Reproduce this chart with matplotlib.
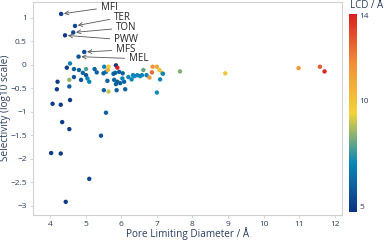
import matplotlib

matplotlib.use("Agg")

import matplotlib.pyplot as plt
from matplotlib.colors import LinearSegmentedColormap, Normalize
from matplotlib.cm import ScalarMappable

plt.rcParams["font.family"] = ["Open Sans", "DejaVu Sans"]

TEXT_COLOR = "#2a3f5f"

# pore limiting diameter, selectivity (log10), largest cavity diameter
pld = [
    4.31, 4.70, 4.65, 4.42, 4.96, 4.80,
    4.56, 4.47, 4.67, 4.81, 5.01, 4.92, 4.67, 4.54, 4.87, 5.01, 5.05, 5.10,
    4.21, 4.19, 4.54, 4.56, 4.07, 4.30,
    5.31, 5.25, 5.52, 5.57, 5.50, 5.64, 5.62, 5.85, 5.89, 5.83, 5.78, 5.94,
    6.04, 5.61, 5.80, 5.89, 5.85, 5.97, 6.08, 6.03, 6.20, 6.11, 5.87, 5.64,
    5.51, 5.57,
    6.45, 6.37, 6.29, 6.33, 6.53, 6.62, 6.58, 6.71, 6.88, 7.00, 6.86, 7.07,
    7.14, 6.79, 7.09, 7.00, 7.65, 7.17,
    8.92, 10.98, 11.58, 11.71,
    4.34, 4.54, 4.03, 4.30, 5.43, 5.10, 4.44,
]
selectivity = [
    1.085, 0.83, 0.69, 0.63, 0.275, 0.175,
    0.03, -0.06, -0.09, -0.11, -0.09, -0.17, -0.26, -0.32, -0.32, -0.22, -0.29, -0.36,
    -0.36, -0.52, -0.46, -0.75, -0.83, -0.85,
    -0.16, -0.09, -0.04, -0.15, -0.18, -0.04, -0.11, -0.01, -0.06, -0.17, -0.19, -0.15,
    -0.18, -0.34, -0.32, -0.36, -0.41, -0.39, -0.36, -0.29, -0.26, -0.52, -0.54, -0.57,
    -0.54, -1.02,
    -0.22, -0.24, -0.31, -0.22, -0.24, -0.11, -0.22, -0.22, -0.04, -0.04, -0.16, -0.11,
    -0.17, -0.27, -0.31, -0.59, -0.14, -0.19,
    -0.18, -0.07, -0.04, -0.14,
    -1.22, -1.37, -1.88, -1.89, -1.51, -2.43, -2.92,
]
lcd = [
    5.0, 5.3, 5.3, 5.0, 5.4, 5.6,
    7.0, 5.0, 6.0, 6.0, 7.8, 6.0, 5.6, 8.5, 5.6, 5.6, 7.0, 7.0,
    5.0, 5.0, 6.0, 5.0, 5.0, 5.0,
    6.0, 6.0, 7.0, 7.0, 6.0, 9.6, 10.5, 5.0, 14.0, 6.0, 6.0, 6.0,
    6.0, 6.0, 6.0, 6.0, 6.0, 6.0, 6.0, 7.0, 7.0, 6.0, 6.0, 9.0,
    6.0, 6.0,
    7.0, 7.0, 7.0, 7.0, 7.0, 8.0, 7.0, 7.0, 11.5, 11.0, 12.5, 9.8,
    9.0, 11.5, 7.0, 7.2, 8.3, 7.0,
    9.8, 11.3, 12.8, 13.8,
    5.0, 5.0, 5.0, 5.0, 5.6, 5.2, 5.0,
]

labels = ["MFI", "TER", "TON", "PWW", "MFS", "MEL"]
label_x = [5.42, 5.79, 5.85, 5.79, 5.85, 6.21]
label_y = [1.23, 1.02, 0.79, 0.53, 0.32, 0.13]

lcd_ticks = [5, 10, 14]

portland = LinearSegmentedColormap.from_list(
    "portland",
    [
        (0.0, "#0c3383"),
        (0.25, "#0a88ba"),
        (0.5, "#f2d338"),
        (0.75, "#f28f38"),
        (1.0, "#d91e1e"),
    ],
)
norm = Normalize(vmin=4.76, vmax=14.05)

W, H = 387, 241
fig = plt.figure(figsize=(W / 100, H / 100), dpi=100)
ax = fig.add_axes([33 / W, 1 - 214.5 / H, (342 - 33) / W, (214.5 - 2) / H])

ax.scatter(pld, selectivity, c=lcd, cmap=portland, norm=norm, s=10,
           linewidths=0, zorder=3)

for i, name in enumerate(labels):
    ax.annotate(
        name,
        xy=(pld[i], selectivity[i]),
        xytext=(label_x[i], label_y[i]),
        ha="left",
        va="center",
        fontsize=7,
        color="#222222",
        arrowprops=dict(arrowstyle="->", color="#555555", lw=0.6,
                        shrinkA=1, shrinkB=2),
    )

ax.set_xlim(3.52, 12.2)
ax.set_ylim(-3.19, 1.34)
ax.set_xticks(range(4, 13))
ax.set_yticks([1, 0.5, 0, -0.5, -1, -1.5, -2, -2.5, -3])
ax.set_yticklabels(["1", "0.5", "0", "\u22120.5", "\u22121", "\u22121.5",
                    "\u22122", "\u22122.5", "\u22123"])
for side in ax.spines.values():
    side.set_color("#d0d0d0")
    side.set_linewidth(0.8)
ax.tick_params(colors="#d0d0d0", labelcolor=TEXT_COLOR, labelsize=6,
               length=2.5, width=0.6, pad=2)
ax.set_xlabel("Pore Limiting Diameter / \u00c5", color=TEXT_COLOR, fontsize=7.2)
ax.set_ylabel("Selectivity (log10 scale)", color=TEXT_COLOR, fontsize=7.2)
ax.xaxis.set_label_coords(0.5, (214.5 - 234) / 212.5)
ax.yaxis.set_label_coords((6 - 33) / 309, 0.5)
ax.xaxis.label.set_va("center")
ax.yaxis.label.set_va("center")

cax = fig.add_axes([349 / W, 1 - 212 / H, 8 / W, 198 / H])
cb = fig.colorbar(ScalarMappable(norm=norm, cmap=portland), cax=cax)
cb.outline.set_visible(False)
cb.set_ticks(lcd_ticks)
cax.tick_params(length=0, labelsize=6, labelcolor=TEXT_COLOR, pad=1.5)
fig.text(350 / W, 1 - 6 / H, "LCD / \u00c5", color=TEXT_COLOR, fontsize=7,
         ha="left", va="center")

fig.savefig("out.png", dpi=100)
